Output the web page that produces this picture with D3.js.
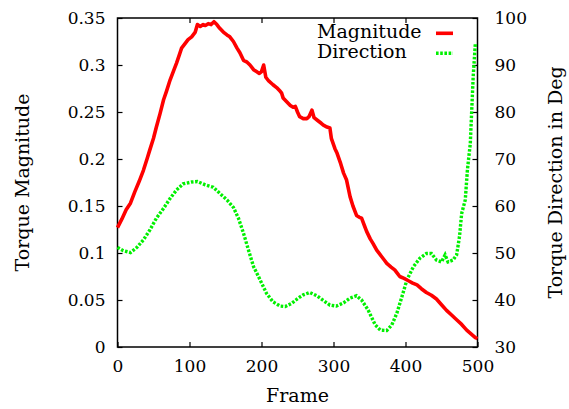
<!DOCTYPE html>
<html>
<head>
<meta charset="utf-8">
<script src="https://cdn.jsdelivr.net/npm/d3@7"></script>
<style>
  html, body { margin: 0; padding: 0; background: #fff; }
  svg { display: block; }
  text { font-family: "Palatino Linotype", "Book Antiqua", Palatino, "P052", "URW Palladio L", "DejaVu Serif", serif; fill: #000; }
</style>
</head>
<body>
<svg id="chart" width="569" height="409"></svg>
<script>
// Torque magnitude per frame (left axis)
const magFrames = [0,6,12,18,24,30,36,41,45,50,54,59,64,68,73,78,82,86,89,93,98,103,108,111,115,119,122,126,130,134,138,142,147,152,156,161,166,170,175,180,184,189,193,197,200,203,206,210,216,221,226,228,230,235,240,244,247,250,253,258,263,266,270,273,278,283,286,291,295,297,302,305,310,314,318,323,327,332,336,339,343,346,351,355,360,364,367,371,374,380,385,389,392,398,404,410,416,422,429,436,443,450,457,464,471,478,485,491,497,500];
const magValues = [0.127,0.136,0.146,0.153,0.165,0.176,0.188,0.200,0.210,0.222,0.234,0.248,0.263,0.272,0.284,0.294,0.302,0.311,0.318,0.322,0.327,0.330,0.335,0.343,0.341,0.343,0.342,0.344,0.343,0.346,0.343,0.339,0.335,0.332,0.330,0.325,0.318,0.313,0.305,0.303,0.300,0.295,0.293,0.291,0.293,0.300,0.287,0.283,0.279,0.276,0.272,0.270,0.265,0.261,0.257,0.255,0.256,0.250,0.245,0.243,0.243,0.245,0.252,0.244,0.241,0.238,0.236,0.234,0.233,0.222,0.211,0.206,0.195,0.185,0.178,0.160,0.150,0.140,0.138,0.137,0.129,0.123,0.115,0.110,0.103,0.099,0.096,0.092,0.089,0.085,0.082,0.078,0.075,0.073,0.0705,0.068,0.066,0.062,0.058,0.055,0.051,0.045,0.039,0.034,0.029,0.024,0.018,0.014,0.010,0.009];

// Torque direction in degrees per frame (right axis)
const dirFrames = [0,8,18,27,36,45,54,64,73,82,91,103,111,122,133,142,152,161,168,175,182,189,198,207,216,226,233,242,251,258,267,277,286,295,304,314,323,332,339,348,358,365,374,381,388,395,402,411,420,429,436,443,450,455,459,466,471,475,478,483,486,490,492,494,497];
const dirValues = [51.2,50.5,50.1,51.2,52.8,54.9,57.4,59.5,61.6,63.4,64.7,65.1,65.2,64.5,64.0,62.7,61.3,59.7,57.4,54.2,50.6,47.1,44.3,41.4,39.6,38.7,38.6,39.3,40.4,41.1,41.6,40.9,39.9,38.9,38.7,39.4,40.4,40.9,40.0,37.9,34.7,33.6,33.5,34.7,37.2,40.7,44.3,47.1,48.9,49.9,49.9,48.5,48.1,49.6,48.1,48.5,49.6,53.5,58.4,61.3,67.7,73.3,80.4,87.5,94.6];

const xTicks = [0,100,200,300,400,500];
const xTickLabels = ["0","100","200","300","400","500"];
const yLeftTicks = [0,0.05,0.1,0.15,0.2,0.25,0.3,0.35];
const yLeftTickLabels = ["0","0.05","0.1","0.15","0.2","0.25","0.3","0.35"];
const yRightTicks = [30,40,50,60,70,80,90,100];
const yRightTickLabels = ["30","40","50","60","70","80","90","100"];
const seriesNames = ["Magnitude","Direction"];

const plot = { left: 117.5, right: 477.5, top: 18, bottom: 347 };
const svg = d3.select("#chart");

const x = d3.scaleLinear().domain([0, 500]).range([plot.left, plot.right]);
const yL = d3.scaleLinear().domain([0, 0.35]).range([plot.bottom, plot.top]);
const yR = d3.scaleLinear().domain([30, 100]).range([plot.bottom, plot.top]);

const tickFont = "17px";
const labelFont = "19px";
const magColor = "#ff0000";
const dirColor = "#00f000";

function styleAxis(g) {
  g.select(".domain").remove();
  g.selectAll(".tick line").attr("stroke", "#000").attr("stroke-width", 1.2);
  g.selectAll(".tick text").style("font-size", tickFont).attr("fill", "#000");
}

// Bottom axis (ticks point inward)
svg.append("g")
  .attr("transform", `translate(0,${plot.bottom})`)
  .call(d3.axisBottom(x).tickValues(xTicks)
    .tickFormat((d, i) => xTickLabels[i]).tickSizeInner(-5).tickSizeOuter(0).tickPadding(13))
  .call(styleAxis);

// Top mirror ticks
svg.append("g")
  .attr("transform", `translate(0,${plot.top})`)
  .call(d3.axisTop(x).tickValues(xTicks.slice(1, -1))
    .tickFormat("").tickSizeInner(-5).tickSizeOuter(0))
  .call(styleAxis);

// Left axis
svg.append("g")
  .attr("transform", `translate(${plot.left},0)`)
  .call(d3.axisLeft(yL).tickValues(yLeftTicks)
    .tickFormat((d, i) => yLeftTickLabels[i]).tickSizeInner(-5).tickSizeOuter(0).tickPadding(12))
  .call(styleAxis);

// Right axis
svg.append("g")
  .attr("transform", `translate(${plot.right},0)`)
  .call(d3.axisRight(yR).tickValues(yRightTicks)
    .tickFormat((d, i) => yRightTickLabels[i]).tickSizeInner(-5).tickSizeOuter(0).tickPadding(17))
  .call(styleAxis);

// Frame
svg.append("rect")
  .attr("x", plot.left).attr("y", plot.top)
  .attr("width", plot.right - plot.left).attr("height", plot.bottom - plot.top)
  .attr("fill", "none").attr("stroke", "#000").attr("stroke-width", 1.5);

// Series
const magData = magFrames.map((f, i) => [f, magValues[i]]);
const dirData = dirFrames.map((f, i) => [f, dirValues[i]]);

svg.append("path")
  .datum(dirData)
  .attr("fill", "none").attr("stroke", dirColor).attr("stroke-width", 3.4)
  .attr("stroke-dasharray", "2.6,1.6")
  .attr("d", d3.line().x(d => x(d[0])).y(d => yR(d[1])));

svg.append("path")
  .datum(magData)
  .attr("fill", "none").attr("stroke", magColor).attr("stroke-width", 3.6)
  .attr("stroke-linejoin", "round")
  .attr("d", d3.line().x(d => x(d[0])).y(d => yL(d[1])));

// Legend
const legend = svg.append("g");
legend.append("text").attr("x", 317).attr("y", 38).style("font-size", labelFont).text(seriesNames[0]);
legend.append("text").attr("x", 317).attr("y", 58).style("font-size", labelFont).text(seriesNames[1]);
legend.append("line").attr("x1", 436).attr("x2", 453).attr("y1", 33.3).attr("y2", 33.3)
  .attr("stroke", magColor).attr("stroke-width", 3.6);
legend.append("line").attr("x1", 436).attr("x2", 453).attr("y1", 53.3).attr("y2", 53.3)
  .attr("stroke", dirColor).attr("stroke-width", 3.4).attr("stroke-dasharray", "2.6,1.6");

// Axis titles
svg.append("text")
  .attr("transform", `translate(29,${(plot.top + plot.bottom) / 2}) rotate(-90)`)
  .attr("text-anchor", "middle").style("font-size", labelFont).text("Torque Magnitude");
svg.append("text")
  .attr("transform", `translate(562,${(plot.top + plot.bottom) / 2}) rotate(-90)`)
  .attr("text-anchor", "middle").style("font-size", labelFont).text("Torque Direction in Deg");
svg.append("text")
  .attr("x", (plot.left + plot.right) / 2).attr("y", 401.5)
  .attr("text-anchor", "middle").style("font-size", labelFont).text("Frame");
</script>
</body>
</html>
